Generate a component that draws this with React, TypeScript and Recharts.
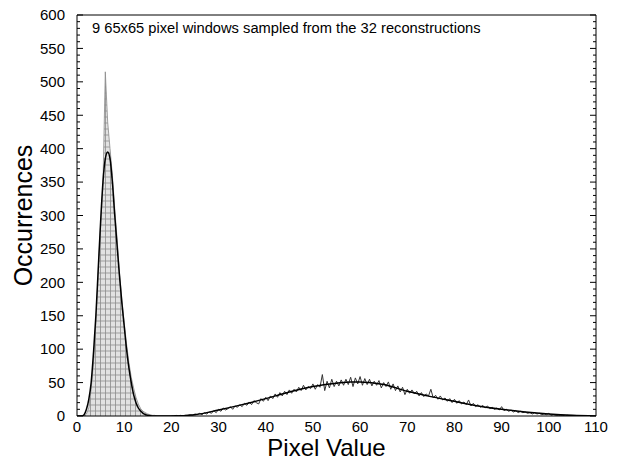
import React from 'react';
import { ComposedChart, Area, Line, XAxis, YAxis } from 'recharts';

const FONT = '"Liberation Sans", Arial, Helvetica, sans-serif';

// histogram bins are 0.5 wide
const binWidth = 0.5;

// narrow peak, bins from 0 to 20
const peakStart = 0;
const peakCounts = [
  0, 0, 0, 0, 3, 12, 40, 80, 140, 215, 285, 345, 515, 440, 400, 360, 310, 265, 215, 175,
  140, 108, 80, 58, 42, 28, 18, 11, 7, 5, 3, 2, 1, 1, 0, 0, 0, 0, 0, 0, 0,
];

// broad peak, bins from 20 to 105
const tailStart = 20;
const tailCounts = [
  0, 0, 1, 0, 1, 0, 1, 1, 2, 1, 3, 2, 4, 2, 5, 3, 6, 4, 8, 5,
  10, 7, 12, 9, 11, 14, 10, 15, 13, 17, 14, 19, 16, 21, 17, 23, 20, 18, 26, 22,
  28, 23, 30, 26, 33, 28, 35, 30, 37, 32, 39, 34, 40, 36, 43, 38, 46, 39, 44, 41,
  48, 40, 47, 43, 62, 38, 52, 42, 55, 44, 52, 45, 54, 46, 55, 47, 58, 44, 57, 48,
  59, 46, 56, 47, 55, 45, 52, 46, 53, 42, 50, 44, 51, 40, 48, 38, 45, 36, 43, 32,
  40, 34, 39, 33, 37, 30, 35, 29, 33, 30, 40, 27, 31, 25, 30, 24, 27, 22, 26, 20,
  25, 19, 23, 18, 21, 17, 24, 15, 19, 14, 17, 13, 16, 12, 15, 11, 13, 10, 12, 9,
  14, 8, 10, 7, 9, 6, 8, 5, 7, 5, 6, 4, 5, 3, 5, 3, 4, 2, 3, 2,
  4, 1, 2, 1, 1, 1, 1, 0, 1, 0, 0,
];

// fitted curve (two components)
const fitX = [
  0, 1, 1.5, 2, 2.5, 3, 3.5, 4, 4.5, 5, 5.5, 6, 6.5, 7, 7.5, 8, 8.5, 9, 9.5, 10,
  10.5, 11, 11.5, 12, 12.5, 13, 14, 15, 16, 18, 20, 25, 30, 35, 40, 45, 50, 55, 58, 60,
  62, 65, 70, 75, 80, 85, 90, 95, 100, 105, 110,
];
const fitY = [
  0, 0, 2, 10, 25, 50, 95, 150, 220, 290, 350, 385, 395, 385, 350, 300, 255, 210, 170, 135,
  100, 72, 50, 32, 20, 12, 4, 1, 0, 0, 0, 2, 9, 17, 26, 36, 44, 49, 51, 51,
  50, 47, 37, 29, 22, 15, 10, 6, 3, 1, 0,
];

const xTicks = [0, 10, 20, 30, 40, 50, 60, 70, 80, 90, 100, 110];
const xMinorTicks = Array.from({ length: 111 }, (_, i) => i);
const yMinorTicks = Array.from({ length: 61 }, (_, i) => i * 10);

const title = '9 65x65 pixel windows sampled from the 32 reconstructions';

const peakData = peakCounts.map((n, i) => ({ x: peakStart + i * binWidth, n }));
const tailData = tailCounts.map((n, i) => ({ x: tailStart + i * binWidth, n }));
const fitData = fitX.map((x, i) => ({ x, y: fitY[i] }));

const LEFT_MARGIN = 12;
const BOTTOM_MARGIN = 5;

// left axis: label every 50, inward tick every 10
const LeftTick = (props: any) => {
  const { x, y, payload } = props;
  const v = payload.value;
  const major = v % 50 === 0;
  const ax = x + LEFT_MARGIN;
  return (
    <g>
      <line x1={ax} y1={y} x2={ax + (major ? 6 : 3)} y2={y} stroke="#000" strokeWidth={1} />
      {major && (
        <text x={x} y={y} dy="0.355em" textAnchor="end" fontSize={15} fill="#000" fontFamily={FONT}>
          {v}
        </text>
      )}
    </g>
  );
};

const RightTick = (props: any) => {
  const { x, y, payload } = props;
  const major = payload.value % 50 === 0;
  return <line x1={x} y1={y} x2={x - (major ? 6 : 3)} y2={y} stroke="#000" strokeWidth={1} />;
};

const TopTick = (props: any) => {
  const { x, y, payload } = props;
  const major = payload.value % 10 === 0;
  return <line x1={x} y1={y} x2={x} y2={y + (major ? 6 : 3)} stroke="#000" strokeWidth={1} />;
};

const BottomTick = (props: any) => {
  const { x, y, payload } = props;
  return (
    <text x={x} y={y} dy="0.71em" textAnchor="middle" fontSize={15} fill="#000" fontFamily={FONT}>
      {payload.value}
    </text>
  );
};

export default function App() {
  return (
    <div style={{ fontFamily: FONT, marginTop: -8 }}>
      <ComposedChart
        width={610}
        height={460}
        margin={{ top: 14, right: 21, bottom: 0, left: 0 }}
      >
        <defs>
          <pattern id="hatch" width="5" height="6" patternUnits="userSpaceOnUse">
            <rect width="5" height="6" fill="#e2e2e2" />
            <path d="M0 3H5M2.5 0V6" stroke="#8c8c8c" strokeWidth="0.8" />
          </pattern>
        </defs>
        <XAxis
          dataKey="x"
          type="number"
          domain={[0, 110]}
          ticks={xTicks}
          interval={0}
          allowDataOverflow
          height={44}
          tickSize={0}
          tickLine={false}
          tickMargin={BOTTOM_MARGIN}
          tick={BottomTick}
          stroke="#000"
          label={{ value: 'Pixel Value', position: 'insideBottom', offset: 4, dx: -10, fill: '#000', fontSize: 24, fontFamily: FONT }}
        />
        <XAxis
          xAxisId="top"
          orientation="top"
          type="number"
          domain={[0, 110]}
          ticks={xMinorTicks}
          interval={0}
          allowDataOverflow
          height={1}
          tickSize={0}
          tickMargin={0}
          tickLine={false}
          tick={TopTick}
          stroke="#000"
        />
        <YAxis
          type="number"
          domain={[0, 600]}
          ticks={yMinorTicks}
          interval={0}
          allowDataOverflow
          width={69}
          tickSize={0}
          tickMargin={LEFT_MARGIN}
          tickLine={false}
          tick={LeftTick}
          stroke="#000"
          label={{ value: 'Occurrences', angle: -90, position: 'insideLeft', offset: 15, fill: '#000', fontSize: 25, fontFamily: FONT, style: { textAnchor: 'middle' } }}
        />
        <YAxis
          yAxisId="right"
          orientation="right"
          type="number"
          domain={[0, 600]}
          ticks={yMinorTicks}
          interval={0}
          allowDataOverflow
          width={1}
          tickSize={0}
          tickMargin={0}
          tickLine={false}
          tick={RightTick}
          stroke="#000"
        />
        <Area
          data={peakData}
          dataKey="n"
          type="linear"
          stroke="#8a8a8a"
          strokeWidth={0.8}
          fill="url(#hatch)"
          fillOpacity={1}
          dot={false}
          activeDot={false}
          isAnimationActive={false}
        />
        <Line
          data={tailData}
          dataKey="n"
          type="linear"
          stroke="#333"
          strokeWidth={1}
          dot={false}
          activeDot={false}
          isAnimationActive={false}
        />
        <Line
          data={fitData}
          dataKey="y"
          type="monotone"
          stroke="#000"
          strokeWidth={1.5}
          dot={false}
          activeDot={false}
          isAnimationActive={false}
        />
        <text x={84} y={33} fontSize={14.7} fill="#000" fontFamily={FONT}>
          {title}
        </text>
      </ComposedChart>
    </div>
  );
}
